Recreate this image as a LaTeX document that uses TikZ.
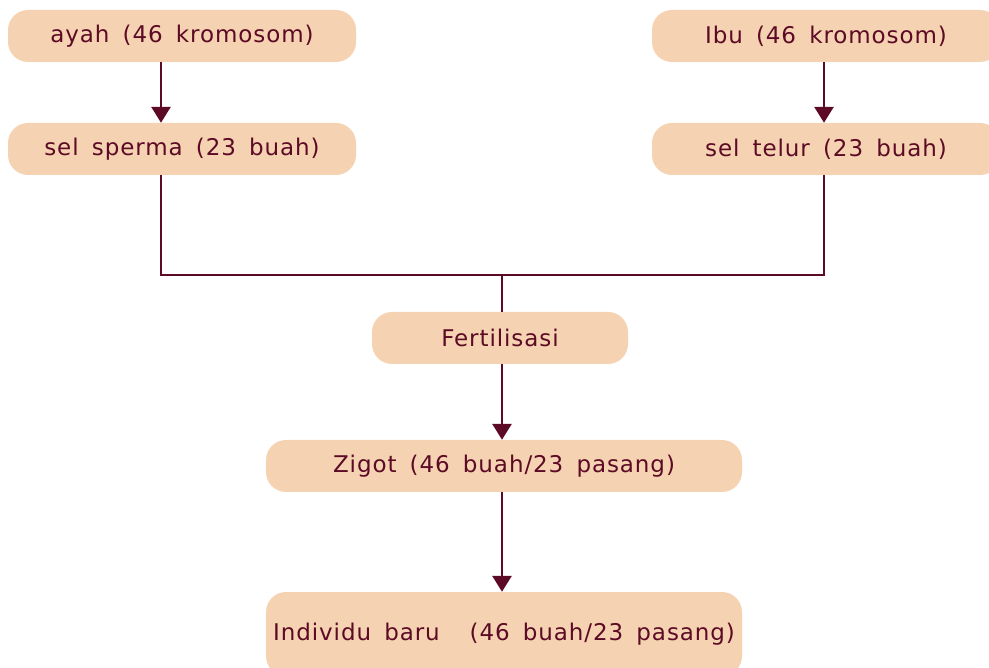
\documentclass[tikz,border=0pt]{standalone}
\usepackage{fontspec}
\setmainfont{DejaVu Sans}
\newfontfamily\boxfont{DejaVu Sans}[WordSpace=1.6,LetterSpace=4]
\usetikzlibrary{arrows.meta}
\definecolor{boxfill}{HTML}{F5D2B1}
\definecolor{ink}{HTML}{5C0A25}
\tikzset{
  box/.style={fill=boxfill, rounded corners=20pt, text=ink, inner sep=0pt,
    minimum height=52pt, font=\boxfont\fontsize{23}{26}\selectfont},
  conn/.style={draw=ink, line width=2.8pt},
  arr/.style={conn, -{Triangle[width=19pt,length=16pt]}},
}
\begin{document}
\begin{tikzpicture}[x=1pt,y=-1pt]
\useasboundingbox (0,0) rectangle (989,668);
\clip (0,0) rectangle (989,668);
\node[box, minimum width=348pt] (ayah) at (182,36) {ayah (46 kromosom)};
\node[box, minimum width=348pt] (sperma) at (182,149) {sel sperma (23 buah)};
\node[box, minimum width=348pt] (ibu) at (826,36) {Ibu (46 kromosom)};
\node[box, minimum width=348pt] (telur) at (826,149) {sel telur (23 buah)};
\node[box, minimum width=256pt] (fert) at (500,338) {Fertilisasi};
\node[box, minimum width=476pt] (zigot) at (504,466) {Zigot (46 buah/23 pasang)};
\node[box, minimum width=476pt, minimum height=84pt] (indiv) at (504,634) {Individu baru\hspace{1.3em}(46 buah/23 pasang)};
\coordinate (lx) at (161,0);
\coordinate (rx) at (824,0);
\coordinate (mx) at (502,0);
\coordinate (join) at (502,275);
\draw[arr] (ayah.south -| lx) -- (sperma.north -| lx);
\draw[arr] (ibu.south -| rx) -- (telur.north -| rx);
\draw[conn] (sperma.south -| lx) |- (join) -| (telur.south -| rx);
\draw[conn] (join) -- (fert.north -| mx);
\draw[arr] (fert.south -| mx) -- (zigot.north -| mx);
\draw[arr] (zigot.south -| mx) -- (indiv.north -| mx);
\end{tikzpicture}
\end{document}
